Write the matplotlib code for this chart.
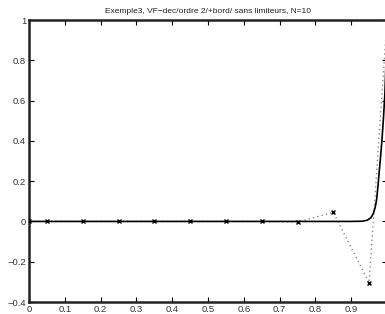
import matplotlib
matplotlib.use("Agg")
import matplotlib.pyplot as plt

# Numerical solution (cell centres + boundaries), N=10
x_num = [0.0, 0.05, 0.15, 0.25, 0.35, 0.45, 0.55, 0.65, 0.75, 0.85, 0.95, 1.0]
u_num = [0.0, 0.0, 0.0, 0.0, 0.0, 0.0, 0.0, 0.0, -0.003, 0.045, -0.305, 1.0]

# Exact solution (boundary layer near x=1)
x_exact = [0.0, 0.90, 0.93, 0.945, 0.955, 0.962, 0.967, 0.971, 0.975, 0.978,
           0.982, 0.986, 0.990, 0.994, 0.997, 1.0]
u_exact = [0.0, 0.0, 0.001, 0.006, 0.018, 0.04, 0.07, 0.108, 0.18, 0.242,
           0.32, 0.406, 0.51, 0.63, 0.78, 1.0]

xticks = [0, 0.1, 0.2, 0.3, 0.4, 0.5, 0.6, 0.7, 0.8, 0.9, 1]
xticklabels = ["0", "0.1", "0.2", "0.3", "0.4", "0.5", "0.6", "0.7", "0.8", "0.9", ""]
yticks = [-0.4, -0.2, 0, 0.2, 0.4, 0.6, 0.8, 1]
yticklabels = ["\u22120.4", "\u22120.2", "0", "0.2", "0.4", "0.6", "0.8", "1"]
title = "Exemple3, VF\u2212dec/ordre 2/+bord/ sans limiteurs, N=10"

plt.rcParams["font.family"] = ["Liberation Sans", "DejaVu Sans"]

W, H = 385, 314
fig = plt.figure(figsize=(W / 100, H / 100), dpi=100)
left, right, top, bottom = 29, 387, 20, 302
ax = fig.add_axes([left / W, (H - bottom) / H, (right - left) / W, (bottom - top) / H])

ax.plot(x_exact, u_exact, color="black", lw=1.2, zorder=3)
ax.plot(x_num, u_num, color="0.55", ls=(0, (1, 2.2)), lw=1.0, zorder=2)
ax.plot(x_num, u_num, ls="none", marker="x", ms=3.2, mew=1.0, color="black", zorder=4)

ax.set_xlim(0, 1)
ax.set_ylim(-0.4, 1)
ax.set_xticks(xticks)
ax.set_xticklabels(xticklabels)
ax.set_yticks(yticks)
ax.set_yticklabels(yticklabels)
ax.tick_params(direction="in", length=3.5, width=0.8, labelsize=6.8, top=True, right=True,
               pad=2, colors="black", labelcolor="#333333")
for s in ax.spines.values():
    s.set_linewidth(1.8)
    s.set_color("#222222")
ax.set_title(title, fontsize=6.0, pad=5, color="#222222")

fig.savefig("out.png", dpi=100)
